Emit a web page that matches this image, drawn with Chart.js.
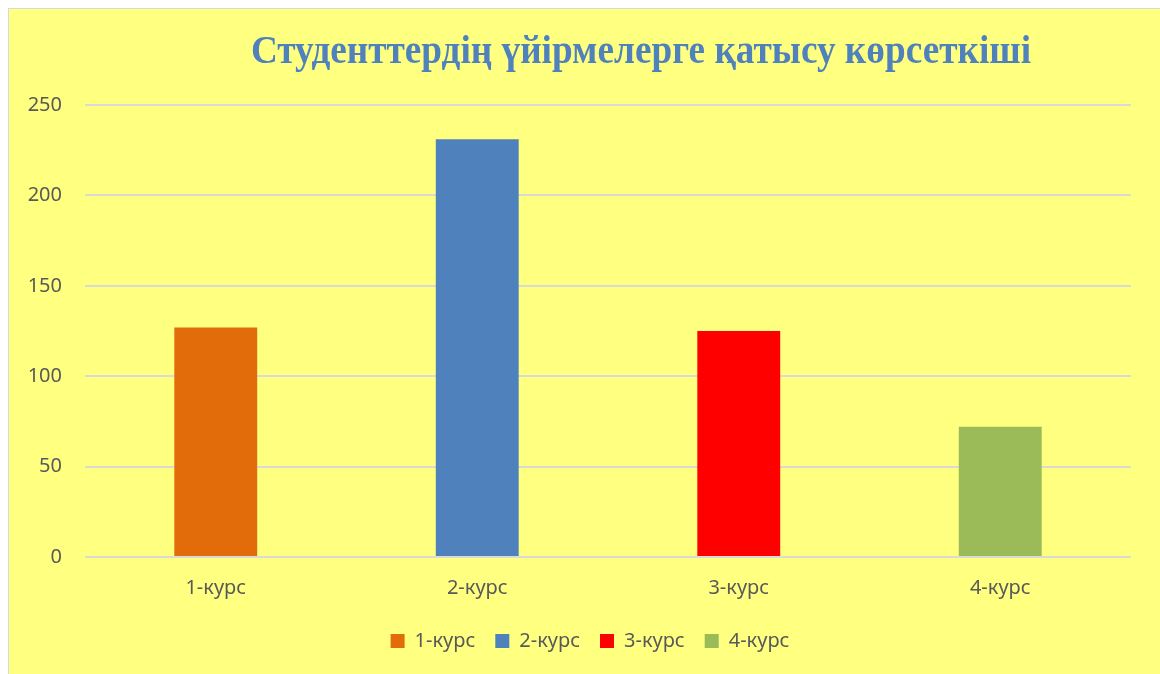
<!DOCTYPE html>
<html>
<head>
<meta charset="utf-8">
<script src="https://cdn.jsdelivr.net/npm/chart.js@4.4.0/dist/chart.umd.min.js"></script>
<style>
    body {
        margin: 0;
        background: #ffffff;
    }
    #frame {
        position: absolute;
        left: 8px;
        top: 8px;
        width: 1152px;
        height: 666px;
        background: #ffff80;
        border-left: 1px solid #d9d9d9;
        border-top: 1px solid #d9d9d9;
    }
    #title {
        position: absolute;
        left: 182px;
        width: 900px;
        top: 18px;
        text-align: center;
        font-family: 'Liberation Serif', serif;
        font-weight: bold;
        font-size: 39px;
        color: #4f81bd;
        white-space: nowrap;
        transform: scaleX(0.955);
        transform-origin: center;
    }
    #myChart {
        position: absolute;
        left: 0;
        top: 0;
    }
</style>
</head>
<body>
<div id="frame">
    <canvas id="myChart" width="1151" height="665"></canvas>
    <div id="title">Студенттердің үйірмелерге қатысу көрсеткіші</div>
</div>
<script>
// 各コースの人数
const labels = ['1-курс', '2-курс', '3-курс', '4-курс'];
const values = [127, 231, 125, 72];
const barColors = ['#e36c0a', '#4f81bd', '#ff0000', '#9bbb59'];
const yTicks = [0, 50, 100, 150, 200, 250];

const tickFont = {
    family: "'Noto Sans', sans-serif",
    size: 20,
};

// 凡例を少し右に寄せる
const legendShift = {
    id: 'legendShift',
    afterLayout: (chart) => {
        chart.legend.left += 40;
    },
};

/**
 * グラフの生成を行います。
 */
const createChart = () => {
    const chartData = {
        labels: labels,
        datasets: [
            {
                label: 'Series 1',
                data: values,
                backgroundColor: barColors,
                borderWidth: 0,
                categoryPercentage: 1.0,
                barPercentage: 0.317,
            },
        ],
    };

    const config = {
        type: 'bar',
        data: chartData,
        plugins: [legendShift],
        options: {
            responsive: false,
            animation: false,
            layout: {
                padding: { top: 96, right: 29, bottom: 13, left: 0 },
            },
            scales: {
                x: {
                    afterFit: (scale) => {
                        scale.height = 54;
                    },
                    grid: { display: false, drawTicks: false },
                    border: { display: false },
                    ticks: { color: '#595959', font: tickFont, padding: 19 },
                },
                y: {
                    min: 0,
                    max: 250,
                    afterFit: (scale) => {
                        scale.width = 76;
                    },
                    afterBuildTicks: (scale) => {
                        scale.ticks = yTicks.map((v) => ({ value: v }));
                    },
                    grid: { color: '#d9d9d9', lineWidth: 2, drawTicks: false },
                    border: { display: false },
                    ticks: { color: '#595959', font: tickFont, padding: 23 },
                },
            },
            plugins: {
                title: { display: false },
                tooltip: { enabled: false },
                legend: {
                    position: 'bottom',
                    labels: {
                        color: '#595959',
                        font: tickFont,
                        boxWidth: 14,
                        boxHeight: 14,
                        padding: 20,
                        generateLabels: (chart) => {
                            return chart.data.labels.map((label, i) => ({
                                text: label,
                                fillStyle: barColors[i],
                                strokeStyle: barColors[i],
                                lineWidth: 0,
                                fontColor: '#595959',
                                index: i,
                            }));
                        },
                    },
                },
            },
        },
    };

    new Chart(document.getElementById('myChart'), config);
};

createChart();
</script>
</body>
</html>
